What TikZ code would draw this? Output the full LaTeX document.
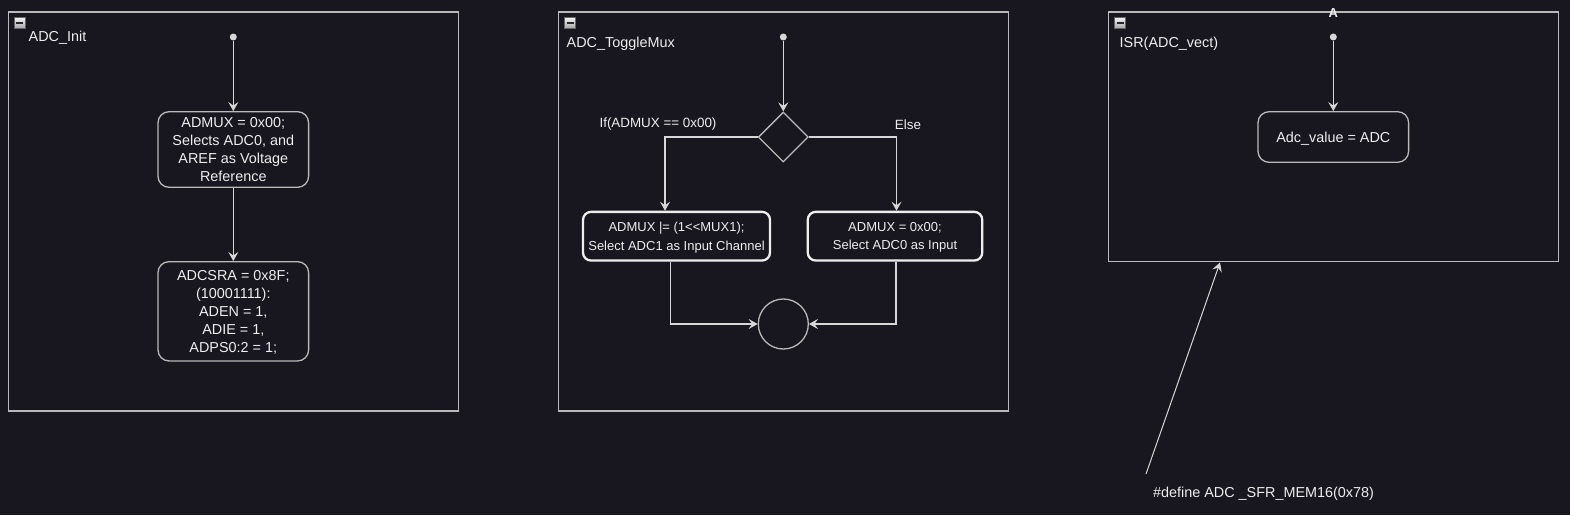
\documentclass[tikz,border=0pt]{standalone}
\usepackage{fontspec}
\setmainfont{Liberation Sans}
\usetikzlibrary{arrows.meta,shapes.geometric,positioning}

\definecolor{darkbg}{RGB}{24,22,30}
\definecolor{framegray}{RGB}{185,185,185}
\definecolor{wiregray}{RGB}{215,215,215}
\definecolor{inkwhite}{RGB}{238,238,238}

\tikzset{
  frame/.style={draw=framegray, line width=1.3pt, minimum width=450pt, inner sep=0pt},
  title/.style={anchor=west, text=inkwhite, font=\fontsize{14.4}{18}\selectfont, inner sep=0pt},
  minusbox/.style={draw=gray!80!black, minimum size=11pt, inner sep=0pt, top color=white!90!gray, bottom color=gray!70,
    path picture={\draw[black!85, line width=2pt] ([xshift=-3.5pt]path picture bounding box.center) -- ([xshift=3.5pt]path picture bounding box.center);}},
  startdot/.style={circle, fill=wiregray, inner sep=0pt, minimum size=7pt},
  action/.style={draw=framegray, line width=1.3pt, rounded corners=11pt, align=center, text=inkwhite, inner sep=0pt,
    minimum width=150.6pt, text depth=0pt, font=\fontsize{14.4}{18}\selectfont},
  branch/.style={draw=inkwhite, line width=2.3pt, rounded corners=8pt, align=center, text=inkwhite, inner sep=0pt,
    minimum height=48.7pt, text depth=-2.5pt, font=\fontsize{13}{18.5}\selectfont},
  choice/.style={diamond, draw=framegray, line width=1.3pt, minimum width=50pt, minimum height=50pt, inner sep=0pt},
  merge/.style={circle, draw=framegray, line width=1.3pt, minimum size=50pt, inner sep=0pt},
  flow/.style={draw=wiregray, line width=1.3pt, -{Stealth[length=9pt,width=10pt,inset=3.5pt]}},
  guard/.style={text=inkwhite, font=\fontsize{13.4}{16}\selectfont, inner sep=0pt},
}

\begin{document}
\begin{tikzpicture}[x=1pt,y=-1pt]

\fill[darkbg] (0,0) rectangle (1570,515);
\useasboundingbox (0,0) rectangle (1570,515);

% ADC_Init
\node[frame, minimum height=399pt] (initframe) at (233.3,211.5) {};
\node[minusbox] (initfold) at (19.5,23) {};
\node[title] (inittitle) at (28.5,38) {ADC\_Init};
\node[startdot] (initstart) at (233.3,37) {};
\node[action, minimum height=75.6pt] (muxset) at (233.3,149.5) {ADMUX = 0x00;\\Selects ADC0, and\\AREF as Voltage\\Reference};
\node[action, minimum height=99.3pt] (adcsra) at (233.3,311.3) {ADCSRA = 0x8F;\\(10001111):\\ADEN = 1,\\ADIE = 1,\\ADPS0:2 = 1;};
\draw[flow] (initstart) -- (muxset);
\draw[flow] (muxset) -- (adcsra);

% ADC_ToggleMux
\node[frame, minimum height=399pt] (toggleframe) at (783.3,211.5) {};
\node[minusbox] (togglefold) at (570,23) {};
\node[title] (toggletitle) at (566.5,43.5) {ADC\_ToggleMux};
\node[startdot] (togglestart) at (783.3,37) {};
\node[choice] (muxtest) at (783.3,137) {};
\node[guard] (iflabel) at (658,124.5) {If(ADMUX == 0x00)};
\node[guard] (elselabel) at (908,124.5) {Else};
\node[branch, minimum width=187pt] (pickone) at (676.5,236.2) {ADMUX |= (1<{}<MUX1);\\Select ADC1 as Input Channel};
\node[branch, minimum width=174.5pt] (pickzero) at (895,236.2) {ADMUX = 0x00;\\Select ADC0 as Input};
\node[merge] (muxjoin) at (783.3,324) {};
\draw[flow] (togglestart) -- (muxtest);
\draw[flow] (muxtest.west) -| ([xshift=-11.5pt]pickone.north);
\draw[flow] (muxtest.east) -| ([xshift=1.5pt]pickzero.north);
\draw[flow] ([xshift=-6pt]pickone.south) |- (muxjoin.west);
\draw[flow] ([xshift=1pt]pickzero.south) |- (muxjoin.east);

% ISR(ADC_vect)
\node[frame, minimum height=249.7pt] (isrframe) at (1333.3,136.85) {};
\node[minusbox] (isrfold) at (1120,23) {};
\node[title] (isrtitle) at (1119.5,43.5) {ISR(ADC\_vect)};
\node[text=inkwhite, font=\fontsize{13}{15}\selectfont\bfseries, inner sep=0pt] (isrmark) at (1333.3,13) {A};
\node[startdot] (isrstart) at (1333.3,37) {};
\node[action, minimum height=50.6pt] (readadc) at (1333.3,137) {Adc\_value = ADC};
\draw[flow] (isrstart) -- (readadc);

% note
\coordinate (deftail) at (1146,474);
\coordinate (defhook) at (1220,262.5);
\draw[flow, line width=1pt] (deftail) -- (defhook);
\node[title, anchor=center] (defnote) at (1263.5,493.5) {\#define ADC \_SFR\_MEM16(0x78)};

\end{tikzpicture}
\end{document}
